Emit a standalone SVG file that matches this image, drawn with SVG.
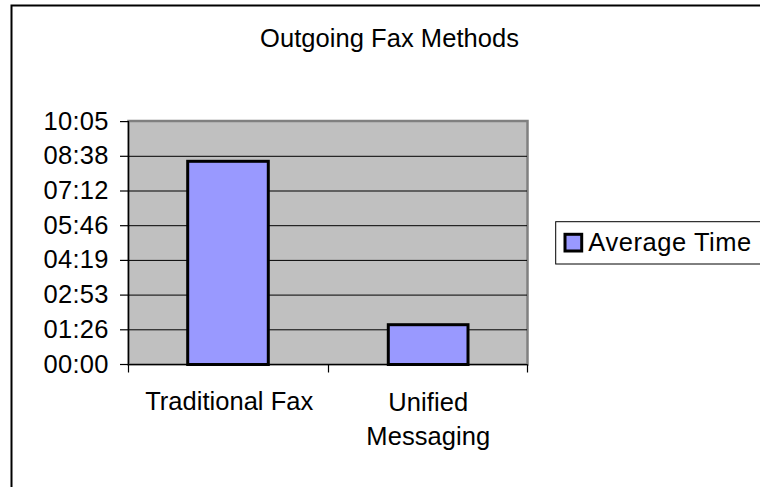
<svg xmlns="http://www.w3.org/2000/svg" width="760" height="487" viewBox="0 0 760 487">
<style>
text{font-family:"Liberation Sans",Arial,sans-serif;font-size:25.5px;fill:#000}
.yl{text-anchor:end}
.xl{text-anchor:middle}
.grid{stroke:#000;stroke-width:1}
.tick{stroke:#000;stroke-width:1.2}
.bar{fill:#9999FF;stroke:#000;stroke-width:3}
</style>
<rect x="11.5" y="5.5" width="770" height="500" fill="#fff" stroke="#000" stroke-width="2"/>
<text x="389.5" y="46.5" class="xl" textLength="259">Outgoing Fax Methods</text>
<g id="plot">
<rect x="128.5" y="121" width="399" height="243.5" fill="#C0C0C0" stroke="#808080" stroke-width="2.5"/>
<g class="grid">
<line x1="128.5" y1="156.3" x2="527" y2="156.3"/>
<line x1="128.5" y1="191" x2="527" y2="191"/>
<line x1="128.5" y1="225.7" x2="527" y2="225.7"/>
<line x1="128.5" y1="260.4" x2="527" y2="260.4"/>
<line x1="128.5" y1="295.1" x2="527" y2="295.1"/>
<line x1="128.5" y1="329.8" x2="527" y2="329.8"/>
</g>
</g>
<g id="bars">
<rect id="bar-traditional" class="bar" x="187.7" y="161.3" width="80.6" height="203.2"/>
<rect id="bar-unified" class="bar" x="388.3" y="324.7" width="79.7" height="39.8"/>
</g>
<g id="axes" class="tick">
<line x1="128.5" y1="121" x2="128.5" y2="364.5"/>
<line x1="128.5" y1="364.5" x2="527.5" y2="364.5"/>
<line x1="120" y1="121.6" x2="128.5" y2="121.6"/>
<line x1="120" y1="156.3" x2="128.5" y2="156.3"/>
<line x1="120" y1="191" x2="128.5" y2="191"/>
<line x1="120" y1="225.7" x2="128.5" y2="225.7"/>
<line x1="120" y1="260.4" x2="128.5" y2="260.4"/>
<line x1="120" y1="295.1" x2="128.5" y2="295.1"/>
<line x1="120" y1="329.8" x2="128.5" y2="329.8"/>
<line x1="120" y1="364.5" x2="128.5" y2="364.5"/>
<line x1="128.5" y1="364.5" x2="128.5" y2="372.5"/>
<line x1="328.5" y1="364.5" x2="328.5" y2="372.5"/>
<line x1="527.5" y1="364.5" x2="527.5" y2="372.5"/>
</g>
<g id="y-labels">
<text class="yl" x="108.5" y="129.6" textLength="65">10:05</text>
<text class="yl" x="108.5" y="164.3" textLength="65">08:38</text>
<text class="yl" x="108.5" y="199" textLength="65">07:12</text>
<text class="yl" x="108.5" y="233.7" textLength="65">05:46</text>
<text class="yl" x="108.5" y="268.4" textLength="65">04:19</text>
<text class="yl" x="108.5" y="303.1" textLength="65">02:53</text>
<text class="yl" x="108.5" y="337.8" textLength="65">01:26</text>
<text class="yl" x="108.5" y="372.5" textLength="65">00:00</text>
</g>
<g id="x-labels">
<text class="xl" x="229.2" y="409.8" textLength="168">Traditional Fax</text>
<text class="xl" x="428.3" y="410.5" textLength="80">Unified</text>
<text class="xl" x="428.3" y="444.5" textLength="124">Messaging</text>
</g>
<g id="legend">
<rect x="555.7" y="221.7" width="220" height="42.3" fill="#fff" stroke="#000" stroke-width="1"/>
<rect x="565" y="234.3" width="16.7" height="16.7" fill="#9999FF" stroke="#000" stroke-width="3"/>
<text x="588.3" y="251" textLength="163">Average Time</text>
</g>
</svg>
